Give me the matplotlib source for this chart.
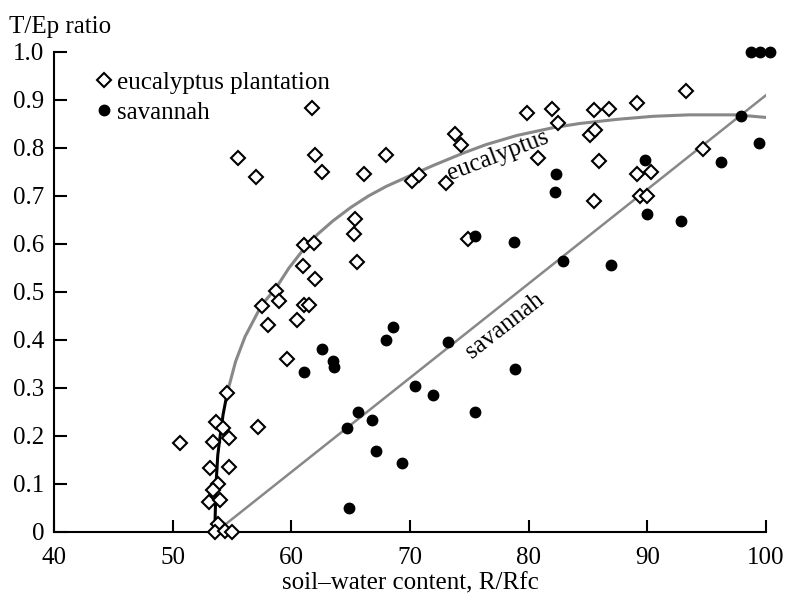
import matplotlib
matplotlib.use('Agg')
import matplotlib.pyplot as plt

plt.rcParams['font.family'] = ['Liberation Serif', 'DejaVu Serif']

# eucalyptus plantation (open diamonds)
euc_x = [50.6, 54.54, 53.64, 54.25, 54.76, 53.41, 57.17, 53.13, 54.73, 53.83,
         53.36, 53.07, 53.97, 53.78, 53.55, 54.39, 55.0, 59.64, 58.0, 57.5,
         58.74, 59.0, 60.5, 55.5, 56.98, 61.97, 62.6, 68.0, 66.1, 70.2,
         70.8, 73.0, 65.4, 65.3, 65.5, 61.07, 61.9, 60.99, 61.97, 61.1,
         61.5, 61.7, 79.9, 82.0, 82.5, 85.5, 86.8, 85.2, 85.6, 85.9,
         80.8, 73.75, 74.3, 85.5, 74.9, 89.1, 93.3, 89.1, 90.3, 89.4,
         90.0, 94.66]
euc_y = [0.185, 0.289, 0.23, 0.217, 0.195, 0.187, 0.218, 0.133, 0.135, 0.099,
         0.0875, 0.062, 0.067, 0.017, 0.0, 0.003, 0.0, 0.36, 0.431, 0.47,
         0.502, 0.482, 0.442, 0.78, 0.739, 0.785, 0.75, 0.785, 0.746, 0.731,
         0.744, 0.728, 0.653, 0.62, 0.562, 0.598, 0.603, 0.555, 0.528, 0.473,
         0.473, 0.883, 0.872, 0.881, 0.853, 0.879, 0.881, 0.826, 0.838, 0.773,
         0.78, 0.83, 0.806, 0.69, 0.61, 0.894, 0.919, 0.746, 0.749, 0.699,
         0.699, 0.798]

# savannah (filled dots)
sav_x = [68.56, 67.95, 62.6, 63.5, 63.6, 61.07, 73.2, 70.4, 71.93, 75.5,
         65.65, 66.77, 64.7, 67.1, 69.35, 64.86, 82.3, 82.2, 75.5, 78.8,
         82.87, 86.9, 78.86, 89.8, 89.97, 92.86, 96.2, 99.45, 97.9,
         98.7, 99.5, 100.3]
sav_y = [0.428, 0.399, 0.382, 0.356, 0.344, 0.334, 0.395, 0.305, 0.285, 0.249,
         0.251, 0.233, 0.216, 0.169, 0.144, 0.049, 0.746, 0.708, 0.617, 0.605,
         0.565, 0.556, 0.34, 0.774, 0.663, 0.648, 0.771, 0.811, 0.867,
         1.0, 1.0, 1.0]

# fitted curves
euc_fit_x = [53.55, 53.6, 53.68, 53.8, 54.0, 54.25, 54.6, 55.3, 56.1, 57.5,
             58.7, 59.8, 61.0, 62.2, 63.5, 65.0, 66.5, 68.0, 69.7, 72.0,
             74.45, 76.4, 79.0, 82.0, 84.3, 87.6, 90.5, 93.5, 97.5, 100.3]
euc_fit_y = [0.0, 0.05, 0.11, 0.16, 0.2, 0.245, 0.29, 0.355, 0.407, 0.473,
             0.508, 0.55, 0.588, 0.62, 0.648, 0.676, 0.7, 0.72, 0.739, 0.764,
             0.789, 0.807, 0.826, 0.842, 0.851, 0.86, 0.866, 0.869, 0.869, 0.863]
sav_fit_x = [54.4, 100.0]
sav_fit_y = [0.015, 0.91]

fig = plt.figure(figsize=(7.85, 5.96), dpi=100)
ax = fig.add_axes([0.0688, 0.1074, 0.907, 0.8054])

# lower part of eucalyptus fit is black, the rest gray
ax.plot(euc_fit_x[:7], euc_fit_y[:7], color='black', lw=2.2, zorder=2)
ax.plot(euc_fit_x[6:], euc_fit_y[6:], color='#888888', lw=2.2, zorder=2)
ax.plot(sav_fit_x, sav_fit_y, color='#888888', lw=1.8, zorder=2)

ax.plot(euc_x, euc_y, linestyle='none', marker='D', markersize=7.5,
        markerfacecolor='white', markeredgecolor='black', markeredgewidth=1.5,
        label='eucalyptus plantation', clip_on=False, zorder=3)
ax.plot(sav_x, sav_y, linestyle='none', marker='o', markersize=7.5,
        color='black', label='savannah', clip_on=False, zorder=4)

ax.text(77.4, 0.784, 'eucalyptus', rotation=21, ha='center', va='center',
        fontsize=18, zorder=5)
ax.text(78.0, 0.43, 'savannah', rotation=38, ha='center', va='center',
        fontsize=18, zorder=5)

ax.set_xlim(40, 100)
ax.set_ylim(0, 1.0)
ax.set_xticks([40, 50, 60, 70, 80, 90, 100])
ax.set_yticks([0, 0.1, 0.2, 0.3, 0.4, 0.5, 0.6, 0.7, 0.8, 0.9, 1.0])
ax.set_yticklabels(['0', '0.1', '0.2', '0.3', '0.4', '0.5', '0.6', '0.7',
                    '0.8', '0.9', '1.0'])
ax.tick_params(direction='in', length=9, width=1.5, labelsize=18)
ax.tick_params(axis='x', pad=11)
ax.tick_params(axis='y', pad=7)
ax.spines['top'].set_visible(False)
ax.spines['right'].set_visible(False)
ax.spines['left'].set_linewidth(1.5)
ax.spines['bottom'].set_linewidth(1.5)

ax.set_xlabel('soil\u2013water content, R/Rfc', fontsize=18, labelpad=2)
fig.text(0.012, 0.944, 'T/Ep ratio', fontsize=18)

ax.legend(loc='upper left', bbox_to_anchor=(0.04, 0.98), frameon=False,
          fontsize=18, handletextpad=0.1, labelspacing=0.3, handlelength=0.9,
          borderaxespad=0)

fig.savefig('out.png', dpi=100)
